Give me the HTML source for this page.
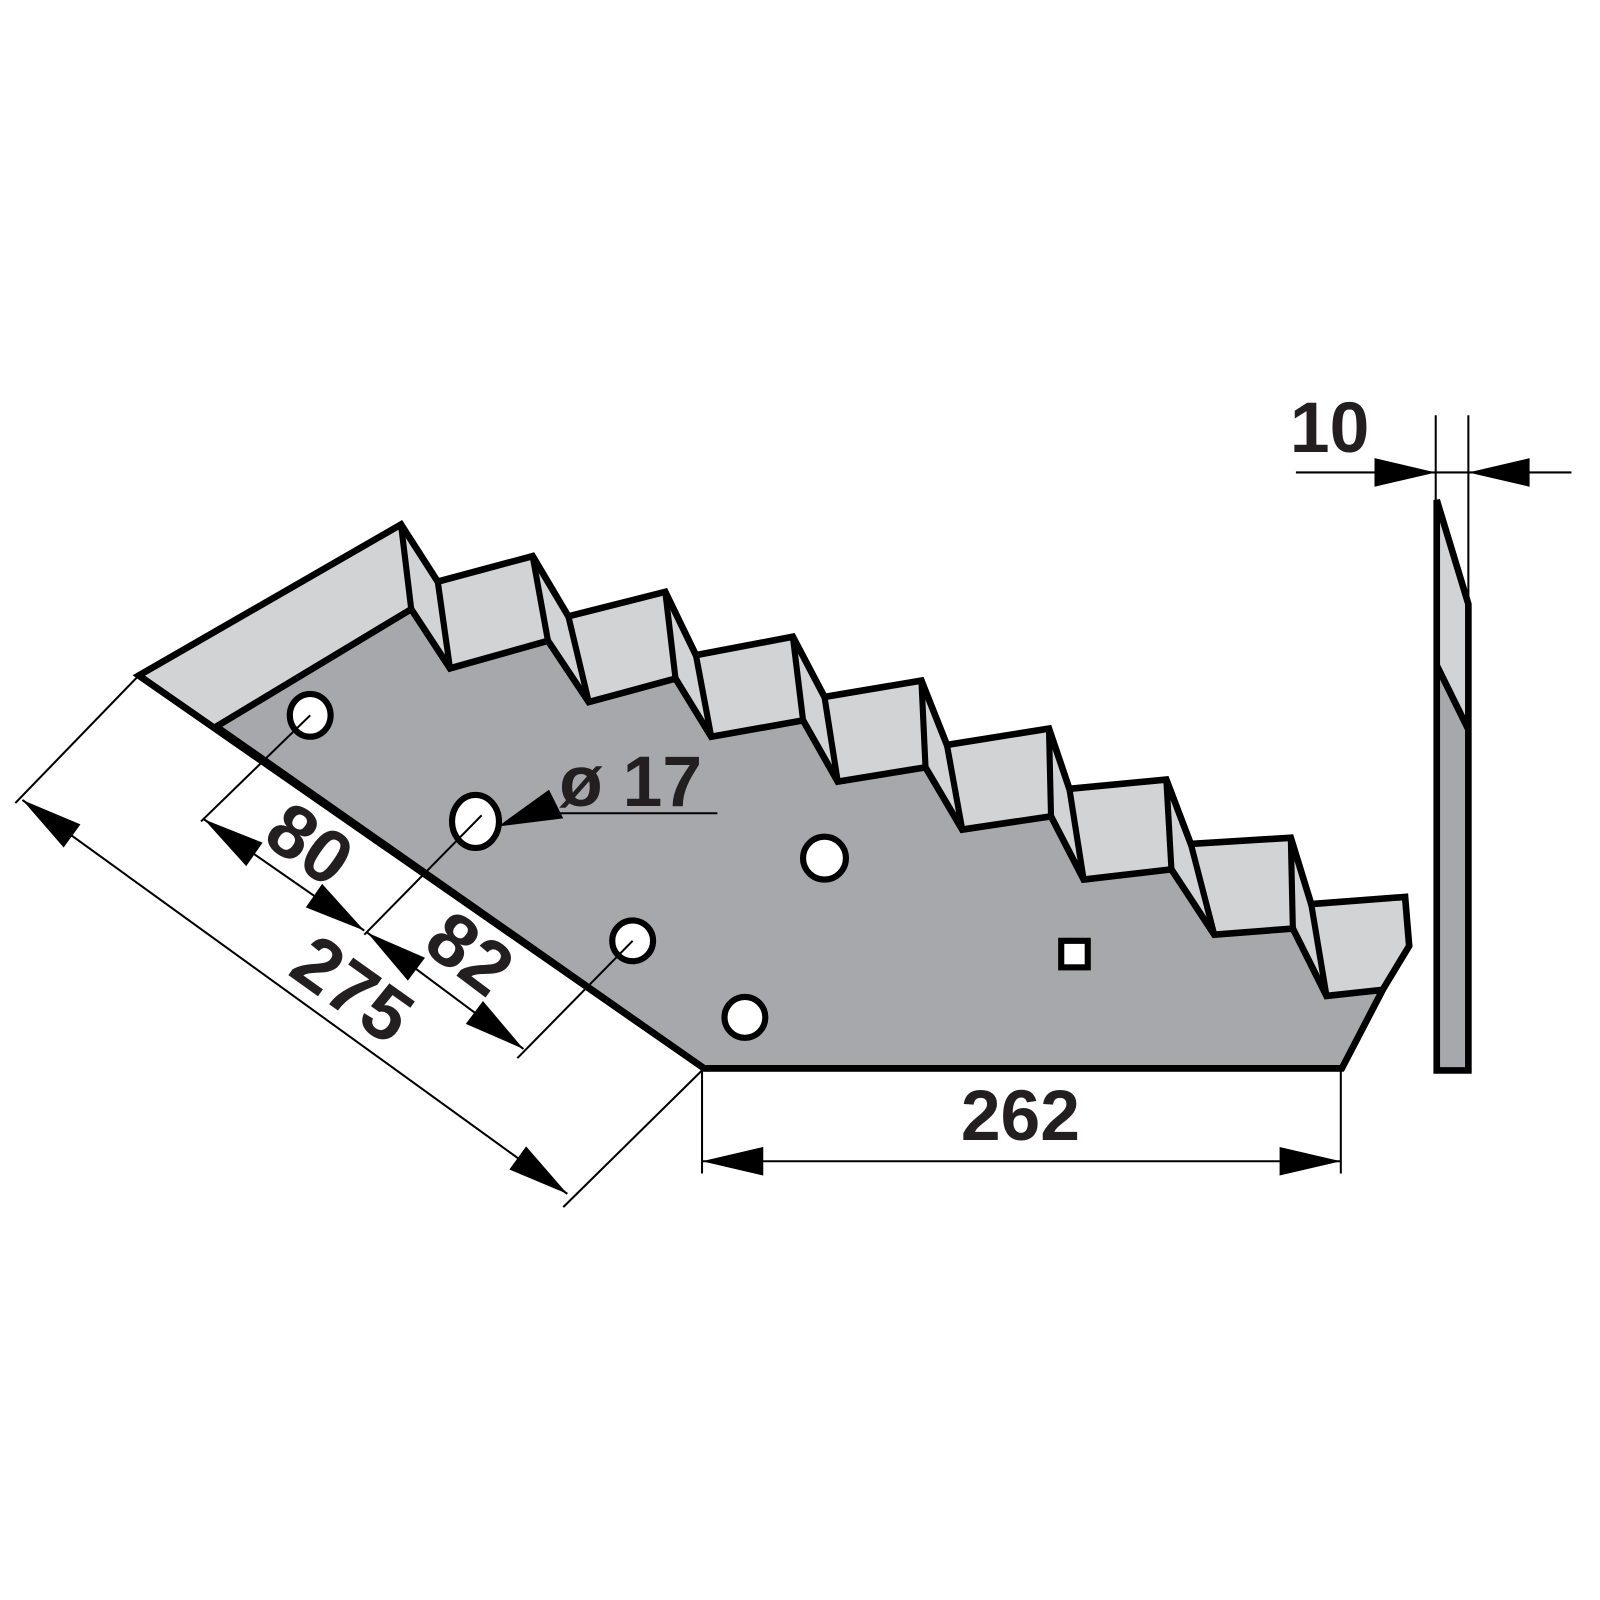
<!DOCTYPE html>
<html><head><meta charset="utf-8"><style>html,body{margin:0;padding:0;background:#fff}svg{display:block}</style></head>
<body>
<svg width="1600" height="1600" viewBox="0 0 1568 1568" xmlns="http://www.w3.org/2000/svg">
<g stroke="#000" stroke-linejoin="miter" stroke-linecap="butt">
<polygon fill="#d2d3d5" stroke-width="6.5" points="136,662 393,514 429,570 522,545 557,604 652,580 682,642 777,624 808,683 903,667 928,730 1028,714 1048,773 1143,764 1167,827 1265,821 1285,886 1377,879 1381,927 1355,970 1315,1047 690,1047"/>
<polygon fill="#a7a8ac" stroke-width="6.5" points="212,712 403,597 441,655 537,628 577,688 662,665 697,722 787,706 821,766 907,752 943,813 1030,800 1062,862 1148,852 1190,916 1267,910 1300,976 1355,970 1315,1047 690,1047"/>
<polyline fill="none" stroke-width="6.5" points="136,662 690,1047 1315,1047"/>
<g stroke-width="6">
<line x1="393" y1="514" x2="403" y2="597"/><line x1="429" y1="570" x2="441" y2="655"/>
<line x1="522" y1="545" x2="537" y2="628"/><line x1="557" y1="604" x2="577" y2="688"/>
<line x1="652" y1="580" x2="662" y2="665"/><line x1="682" y1="642" x2="697" y2="722"/>
<line x1="777" y1="624" x2="787" y2="706"/><line x1="808" y1="683" x2="821" y2="766"/>
<line x1="903" y1="667" x2="907" y2="752"/><line x1="928" y1="730" x2="943" y2="813"/>
<line x1="1028" y1="714" x2="1030" y2="800"/><line x1="1048" y1="773" x2="1062" y2="862"/>
<line x1="1143" y1="764" x2="1148" y2="852"/><line x1="1167" y1="827" x2="1190" y2="916"/>
<line x1="1265" y1="821" x2="1267" y2="910"/><line x1="1285" y1="886" x2="1300" y2="976"/>
</g>
<g fill="#fff" stroke-width="6">
<ellipse cx="304" cy="701" rx="20" ry="21"/>
<ellipse cx="466" cy="805" rx="23" ry="26"/>
<circle cx="620" cy="922" r="20"/>
<circle cx="808" cy="841" r="21"/>
<circle cx="730" cy="997" r="20"/>
<rect x="1040" y="922" width="26" height="26"/>
</g>
<polygon fill="#d2d3d5" stroke="none" points="1408,490 1439,592 1439,715 1408,652"/>
<polygon fill="#a7a8ac" stroke="none" points="1408,652 1439,715 1439,1049 1408,1049"/>
<polygon fill="none" stroke-width="6.5" points="1408,490 1439,592 1439,1049 1408,1049"/>
<line x1="1408" y1="652" x2="1439" y2="715" stroke-width="6.5"/>
<g stroke-width="2" fill="none">
<line x1="1407" y1="407" x2="1407" y2="490"/><line x1="1439" y1="407" x2="1439" y2="592"/>
<line x1="1270" y1="463" x2="1540" y2="463"/>
<line x1="688" y1="1050" x2="688" y2="1150"/><line x1="1314" y1="1050" x2="1314" y2="1150"/>
<line x1="688" y1="1138" x2="1314" y2="1138"/>
<line x1="136" y1="662" x2="15" y2="787"/><line x1="690" y1="1047" x2="552" y2="1183"/>
<line x1="22" y1="784" x2="556" y2="1170"/>
<line x1="304" y1="701" x2="197" y2="805"/><line x1="472" y1="799" x2="357" y2="916"/>
<line x1="620" y1="922" x2="507" y2="1037"/>
<line x1="200" y1="803" x2="357" y2="912"/><line x1="360" y1="914" x2="513" y2="1028"/>
<line x1="530" y1="797" x2="703" y2="797"/>
</g>
</g>
<g fill="#000">
<polygon points="1407,463 1347,449 1347,477"/>
<polygon points="1439,463 1499,449 1499,477"/>
<polygon points="688,1138 748,1124 748,1152"/>
<polygon points="1314,1138 1254,1124 1254,1152"/>
<polygon points="22,784 62.4,830.5 78.8,807.9"/>
<polygon points="556,1170 499.2,1146.1 515.6,1123.5"/>
<polygon points="200,803 241.3,848.8 257.3,825.8"/>
<polygon points="357,912 299.7,889.2 315.7,866.2"/>
<polygon points="360,914 399.7,961 416.5,938.6"/>
<polygon points="513,1028 456.5,1003.4 473.3,981"/>
<polygon points="488,810 552,802 538,774"/>
</g>
<g font-family="Liberation Sans, sans-serif" font-weight="bold" fill="#231f20" font-size="70">
<text x="1303" y="443" text-anchor="middle">10</text>
<text x="1000" y="1117" text-anchor="middle">262</text>
<text x="618" y="790" text-anchor="middle">ø 17</text>
<text transform="translate(303,828) rotate(35)" text-anchor="middle" dominant-baseline="central" font-size="74">80</text>
<text transform="translate(460,935) rotate(37)" text-anchor="middle" dominant-baseline="central" font-size="74">82</text>
<text transform="translate(345,970) rotate(35.5)" text-anchor="middle" dominant-baseline="central" font-size="74">275</text>
</g>
</svg>
</body></html>
